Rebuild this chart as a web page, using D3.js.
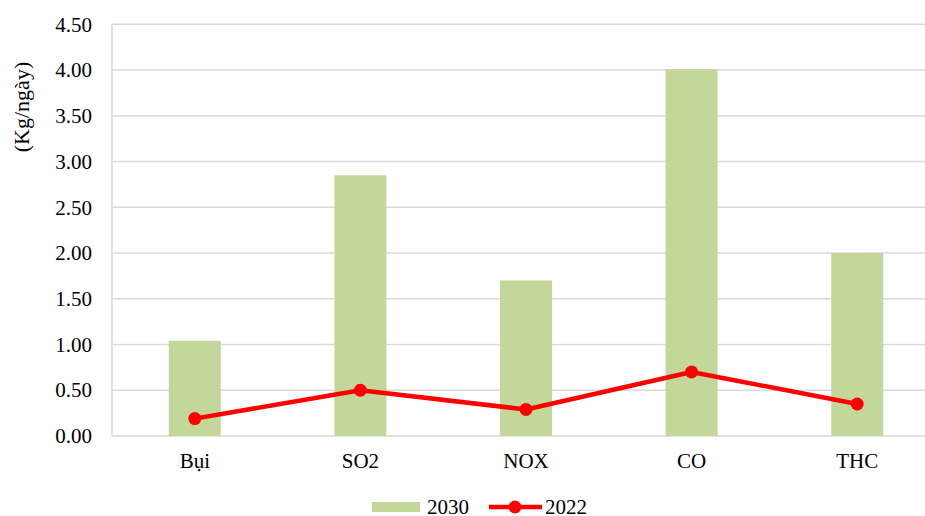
<!DOCTYPE html>
<html>
<head>
<meta charset="utf-8">
<script src="https://cdn.jsdelivr.net/npm/d3@7"></script>
</head>
<body style="margin:0;background:#fff">
<svg id="chart" width="925" height="516" style="display:block"></svg>
<script>
// Emission loads per pollutant (kg/day)
const categories = ["Bụi", "SO2", "NOX", "CO", "THC"];
const values2030 = [1.04, 2.85, 1.70, 4.01, 2.00];
const values2022 = [0.19, 0.50, 0.29, 0.70, 0.35];
const yTicks = [0, 0.5, 1, 1.5, 2, 2.5, 3, 3.5, 4, 4.5];
const seriesNames = ["2030", "2022"];
const yTitle = "(Kg/ngày)";

const svg = d3.select("#chart");
const W = 925;
const plotLeft = 112, plotRight = W + 15;
const plotTop = 24.3, plotBottom = 436;

const x = d3.scaleBand().domain(categories).range([plotLeft, plotRight]).paddingInner(0).paddingOuter(0);
const y = d3.scaleLinear().domain([0, 4.5]).range([plotBottom, plotTop]);

const barColor = "#c4d79b";
const lineColor = "#ff0000";
const gridColor = "#d9d9d9";

// Horizontal gridlines
svg.append("g")
  .selectAll("line")
  .data(yTicks)
  .join("line")
  .attr("x1", plotLeft).attr("x2", plotRight)
  .attr("y1", d => y(d)).attr("y2", d => y(d))
  .attr("stroke", gridColor).attr("stroke-width", 1.5);

// Left axis line
svg.append("line")
  .attr("x1", plotLeft).attr("x2", plotLeft)
  .attr("y1", plotTop).attr("y2", plotBottom)
  .attr("stroke", gridColor).attr("stroke-width", 1.5);

// Y tick labels
const yAxis = d3.axisLeft(y).tickValues(yTicks).tickFormat(d3.format(".2f")).tickSize(0).tickPadding(20);
const gy = svg.append("g").attr("transform", `translate(${plotLeft},0)`).call(yAxis);
gy.select(".domain").remove();
gy.attr("font-family", null).attr("font-size", null);
gy.selectAll("text").attr("font-family", "Liberation Serif").attr("font-size", 21).attr("fill", "#000");

// X tick labels
const xAxis = d3.axisBottom(x).tickSize(0).tickPadding(17);
const gx = svg.append("g").attr("transform", `translate(0,${plotBottom})`).call(xAxis);
gx.select(".domain").remove();
gx.attr("font-family", null).attr("font-size", null);
gx.selectAll("text").attr("font-family", "Liberation Serif").attr("font-size", 21).attr("fill", "#000");

// Bars (2030)
const barW = 52;
svg.append("g")
  .selectAll("rect")
  .data(categories)
  .join("rect")
  .attr("x", d => x(d) + x.bandwidth() / 2 - barW / 2)
  .attr("width", barW)
  .attr("y", (d, i) => y(values2030[i]))
  .attr("height", (d, i) => y(0) - y(values2030[i]))
  .attr("fill", barColor);

// Line (2022)
const pts = categories.map((c, i) => [x(c) + x.bandwidth() / 2, y(values2022[i])]);
svg.append("path")
  .attr("d", d3.line()(pts))
  .attr("fill", "none")
  .attr("stroke", lineColor)
  .attr("stroke-width", 4.5)
  .attr("stroke-linejoin", "round");
svg.append("g")
  .selectAll("circle")
  .data(pts)
  .join("circle")
  .attr("cx", d => d[0]).attr("cy", d => d[1])
  .attr("r", 6.5).attr("fill", lineColor);

// Y-axis title
svg.append("text")
  .attr("transform", "translate(29,107) rotate(-90)")
  .attr("text-anchor", "middle")
  .attr("font-family", "Liberation Serif").attr("font-size", 22)
  .attr("fill", "#000")
  .text(yTitle);

// Legend
const lg = svg.append("g").attr("transform", "translate(0,507)");
lg.append("rect").attr("x", 372).attr("y", -5).attr("width", 48).attr("height", 10).attr("fill", barColor);
lg.append("text").attr("x", 427).attr("y", 7).attr("fill", "#000")
  .attr("font-family", "Liberation Serif").attr("font-size", 21).text(seriesNames[0]);
lg.append("line").attr("x1", 489).attr("x2", 542).attr("y1", 0).attr("y2", 0)
  .attr("stroke", lineColor).attr("stroke-width", 4.5);
lg.append("circle").attr("cx", 515).attr("cy", 0).attr("r", 6.5).attr("fill", lineColor);
lg.append("text").attr("x", 545).attr("y", 7).attr("fill", "#000")
  .attr("font-family", "Liberation Serif").attr("font-size", 21).text(seriesNames[1]);
</script>
</body>
</html>
